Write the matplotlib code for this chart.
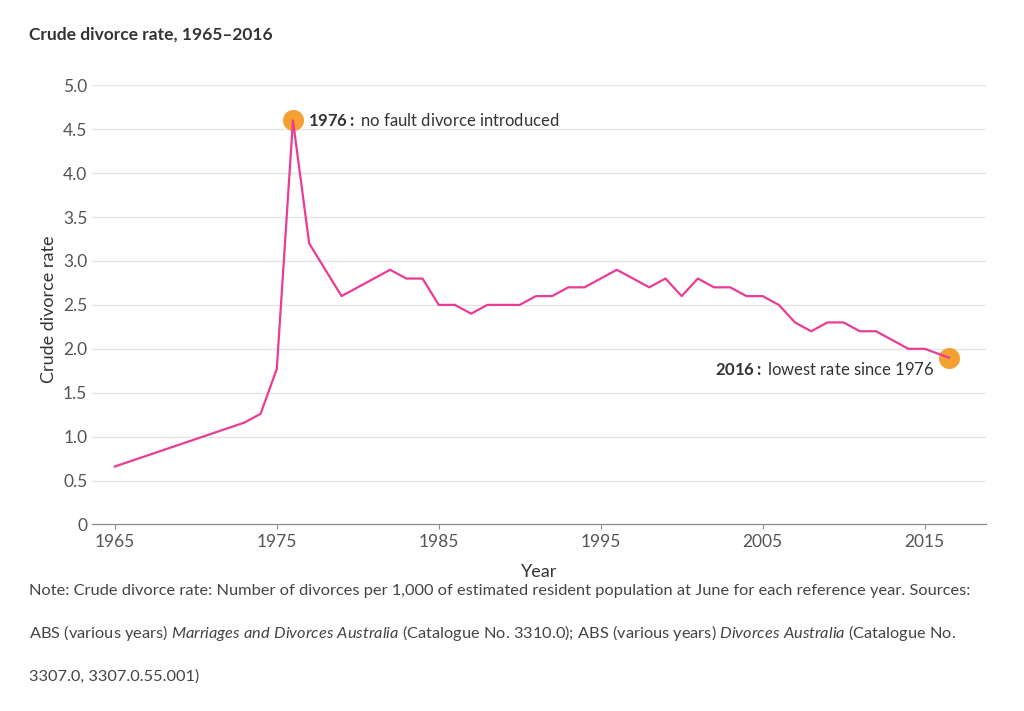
import matplotlib.pyplot as plt

years = [1965, 1973, 1974, 1975, 1976, 1977, 1979, 1982, 1983, 1984, 1985, 1986, 1987,
         1988, 1989, 1990, 1991, 1992, 1993, 1994, 1996, 1998, 1999, 2000, 2001, 2002,
         2003, 2004, 2005, 2006, 2007, 2008, 2009, 2010, 2011, 2012, 2013, 2014, 2015, 2016.5]
rates = [0.66, 1.16, 1.26, 1.77, 4.6, 3.2, 2.6, 2.9, 2.8, 2.8, 2.5, 2.5, 2.4,
         2.5, 2.5, 2.5, 2.6, 2.6, 2.7, 2.7, 2.9, 2.7, 2.8, 2.6, 2.8, 2.7,
         2.7, 2.6, 2.6, 2.5, 2.3, 2.2, 2.3, 2.3, 2.2, 2.2, 2.1, 2.0, 2.0, 1.9]
yticks = [0, 0.5, 1.0, 1.5, 2.0, 2.5, 3.0, 3.5, 4.0, 4.5, 5.0]
xticks = [1965, 1975, 1985, 1995, 2005, 2015]

plt.rcParams['font.family'] = ['Lato', 'DejaVu Sans']
plt.rcParams['mathtext.fontset'] = 'custom'
plt.rcParams['mathtext.rm'] = 'Lato'
plt.rcParams['mathtext.bf'] = 'Lato:bold'
plt.rcParams['mathtext.it'] = 'Lato:italic'

fig = plt.figure(figsize=(10.24, 7.11), dpi=100)
ax = fig.add_axes([0.09, 0.25, 0.873, 0.63])

ax.plot(years, rates, color='#ec3b94', lw=1.6, zorder=3)
ax.scatter([years[4], years[-1]], [rates[4], rates[-1]], s=200, color='#f4a132', zorder=2)
ax.text(1976.9, 4.6, r'$\bf{1976:}$ no fault divorce introduced', fontsize=12,
        va='center', color='#333333')
ax.text(2015.6, 1.77, r'$\bf{2016:}$ lowest rate since 1976', fontsize=12,
        va='center', ha='right', color='#333333')

ax.set_xlim(1963.6, 2018.8)
ax.set_ylim(-0.1, 5.0)
ax.set_yticks(yticks)
ax.set_yticklabels(['0'] + [f'{v:.1f}' for v in yticks[1:]])
ax.set_xticks(xticks)
ax.grid(axis='y', color='#e4e4e4', lw=1)
ax.set_axisbelow(True)
for s in ['top', 'right', 'left']:
    ax.spines[s].set_visible(False)
ax.spines['bottom'].set_color('#888888')
ax.spines['bottom'].set_position(('data', 0))
ax.tick_params(axis='y', length=0, labelsize=12.5, colors='#555555')
ax.tick_params(axis='x', labelsize=12.5, colors='#555555', color='#888888')
ax.set_xlabel('Year', fontsize=13, color='#333333', labelpad=10)
ax.set_ylabel('Crude divorce rate', fontsize=13, color='#333333')

fig.text(0.028, 0.951, 'Crude divorce rate, 1965\u20132016', fontsize=12.5, weight='bold',
         color='#333333', va='center')
fig.text(0.028, 0.169, 'Note: Crude divorce rate: Number of divorces per 1,000 of estimated '
         'resident population at June for each reference year. Sources:', fontsize=11.8,
         color='#444444', va='center')
fig.text(0.028, 0.11, r'ABS (various years) $\it{Marriages\ and\ Divorces\ Australia}$ '
         r'(Catalogue No. 3310.0); ABS (various years) $\it{Divorces\ Australia}$ (Catalogue No.',
         fontsize=11.8, color='#444444', va='center')
fig.text(0.028, 0.048, '3307.0, 3307.0.55.001)', fontsize=11.8, color='#444444', va='center')

fig.savefig('out.png', dpi=100)
